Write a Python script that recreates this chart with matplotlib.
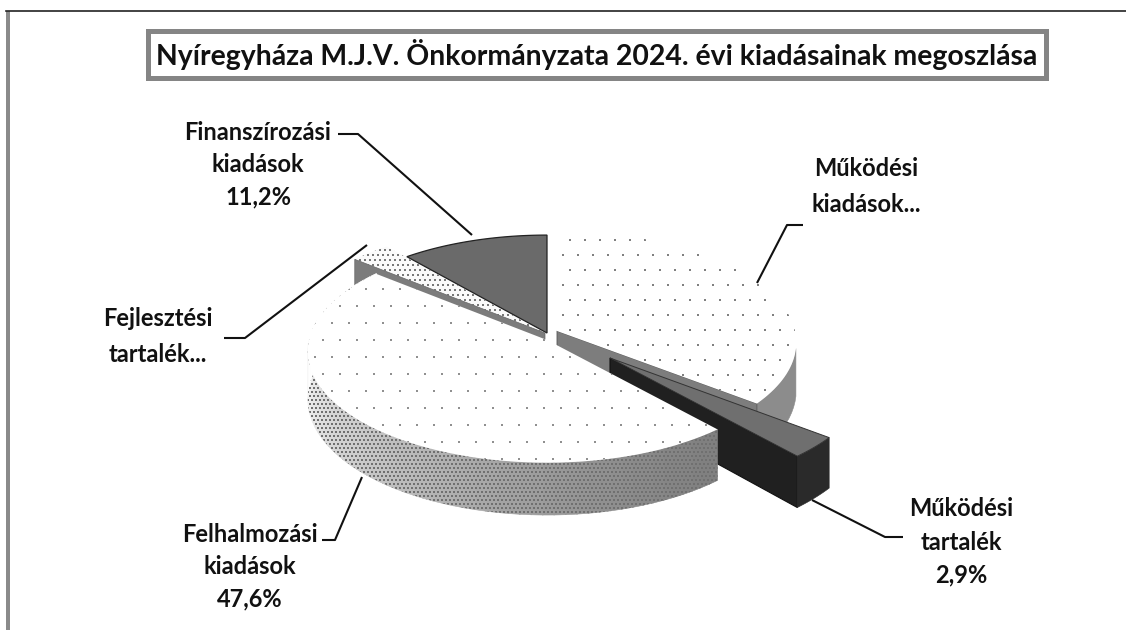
import numpy as np
import matplotlib
matplotlib.use("Agg")
import matplotlib.pyplot as plt
from matplotlib.patches import Polygon, Rectangle

# ---- data (clockwise from 12 o'clock) ----
categories = ["Működési kiadások", "Működési tartalék", "Felhalmozási kiadások",
              "Fejlesztési tartalék", "Finanszírozási kiadások"]
values = [35.6, 2.9, 47.6, 2.7, 11.2]
label_lines = [["Működési", "kiadások..."],
               ["Működési", "tartalék", "2,9%"],
               ["Felhalmozási", "kiadások", "47,6%"],
               ["Fejlesztési", "tartalék..."],
               ["Finanszírozási", "kiadások", "11,2%"]]
title = "Nyíregyháza M.J.V. Önkormányzata 2024. évi kiadásainak megoszlása"

# ---- layout / style ----
W, H = 1126, 630
FONT = "Lato"
RX, RY, PERSP, DEPTH = 238, 110, 0.103, 47
apex = [(557, 331), (610, 358), (547, 340), (545, 333), (547, 333)]
radius = [1.0, 1.09, 1.0, 1.12, 0.98]
label_xy = [(866, 186), (961, 542), (250, 567), (158, 336), (258, 165)]
line_gap = [36, 33, 32, 36, 32]
leaders = [[(803, 225), (787, 225), (757, 283)],
           [(812, 500), (885, 537), (903, 537)],
           [(362, 477), (335, 540), (322, 540)],
           [(367, 245), (245, 338), (224, 338)],
           [(472, 235), (358, 134), (338, 134)]]

fig = plt.figure(figsize=(W / 100, H / 100), dpi=100, facecolor="white")
ax = fig.add_axes([0, 0, 1, 1])
ax.set_xlim(0, W)
ax.set_ylim(H, 0)
ax.axis("off")

edges = np.concatenate([[0], np.cumsum(values)]) / np.sum(values) * 2 * np.pi


def proj(theta, slice_i, z=0.0):
    theta = np.asarray(theta, dtype=float)
    r = radius[slice_i]
    u, v = r * np.sin(theta), -r * np.cos(theta)
    s = 1 / (1 - PERSP * v)
    ax0, ay0 = apex[slice_i]
    return np.column_stack([ax0 + RX * u * s, ay0 + RY * v * s + z * s])


def arc(i, n=80):
    return np.linspace(edges[i], edges[i + 1], n)


def top_poly(i):
    return np.vstack([[apex[i]], proj(arc(i), i)])


def cut_poly(i, theta):
    p = proj([theta], i)[0]
    q = proj([theta], i, DEPTH)[0]
    a = np.array(apex[i], dtype=float)
    return np.array([a, p, q, a + [0, DEPTH]])


def side(i, lo, hi, color, zorder):
    t = np.linspace(lo, hi, 12)
    pts = np.vstack([proj(t, i), proj(t[::-1], i, DEPTH)])
    patch = Polygon(pts, closed=True, fc=color, ec=color, lw=0.4, zorder=zorder)
    ax.add_patch(patch)
    return patch


def dots(patch, step, color, size, zorder):
    xs = np.arange(0, W, step)
    ys = np.arange(0, H, step)
    gx, gy = np.meshgrid(xs, ys)
    gx = gx + (np.arange(len(ys))[:, None] % 2) * step / 2
    sc = ax.scatter(gx.ravel(), gy.ravel(), s=size, c=color, lw=0, marker="s", zorder=zorder)
    sc.set_clip_path(patch)


# outer frame
ax.add_patch(Rectangle((6, 11), 4, H, fc="#8a8a8a", ec="none", zorder=1))
ax.plot([6, W], [10.5, 10.5], color="#222222", lw=1.2, zorder=1)

# Fin (back)
ax.add_patch(Polygon(top_poly(4), closed=True, fc="#6a6a6a", ec="#222222", lw=0.9, zorder=2))

# Fejlesztesi
ax.add_patch(Polygon(cut_poly(3, edges[3]), closed=True, fc="#7c7c7c", ec="#666666", lw=0.5, zorder=3))
fej = Polygon(top_poly(3), closed=True, fc="#fafafa", ec="none", zorder=1.9)
ax.add_patch(fej)
dots(fej, 5, "#777777", 1.2, 1.95)

# Mukodesi kiadasok
side(0, np.pi * 0.55, edges[1], "#8c8c8c", 5)
ax.add_patch(Polygon(cut_poly(0, edges[1]), closed=True, fc="#7d7d7d", ec="#555555", lw=0.6, zorder=5.5))
mk = Polygon(top_poly(0), closed=True, fc="white", ec="none", zorder=6)
ax.add_patch(mk)
dots(mk, 15, "#808080", 1.6, 6.1)

# Mukodesi tartalek
ax.add_patch(Polygon(cut_poly(1, edges[2]), closed=True, fc="#202020", ec="#111111", lw=0.8, zorder=7))
side(1, edges[1], edges[2], "#2a2a2a", 7.2)
ax.add_patch(Polygon(top_poly(1), closed=True, fc="#6f6f6f", ec="#333333", lw=0.7, zorder=7.5))

# Felhalmozasi: shaded rim, then the white top
shade_t = np.linspace(edges[2], edges[3], 70)
for a, b in zip(shade_t[:-1], shade_t[1:]):
    f = np.clip((a - edges[2]) / (np.radians(270) - edges[2]), 0, 1)
    g = 0.5 + 0.5 * f ** 1.3
    side(2, a, b + 0.004, (g, g, g), 8)
side_all = Polygon(np.vstack([proj(shade_t, 2), proj(shade_t[::-1], 2, DEPTH)]), closed=True,
                   fc="none", ec="none", zorder=8.1)
ax.add_patch(side_all)
dots(side_all, 4, "#707070", 1.1, 8.2)
fel = Polygon(top_poly(2), closed=True, fc="white", ec="none", zorder=9)
ax.add_patch(fel)
dots(fel, 17, "#909090", 1.3, 9.1)

# leaders
for pts in leaders:
    xs, ys = zip(*pts)
    ax.plot(xs, ys, color="#111111", lw=1.5, zorder=12, solid_capstyle="butt")

# labels
for lines, (x, y), gap in zip(label_lines, label_xy, line_gap):
    n = len(lines)
    for k, line in enumerate(lines):
        ax.text(x, y + (k - (n - 1) / 2) * gap, line, ha="center", va="center",
                family=FONT, weight="bold", fontsize=17, color="#111111", zorder=13)

# title box
ax.add_patch(Rectangle((148, 31), 898, 47, fc="white", ec="#858585", lw=3.6, zorder=14))
ax.text(597, 54, title, ha="center", va="center", family=FONT, weight="bold",
        fontsize=20.4, color="#111111", zorder=15)

fig.savefig("out.png", dpi=100)
